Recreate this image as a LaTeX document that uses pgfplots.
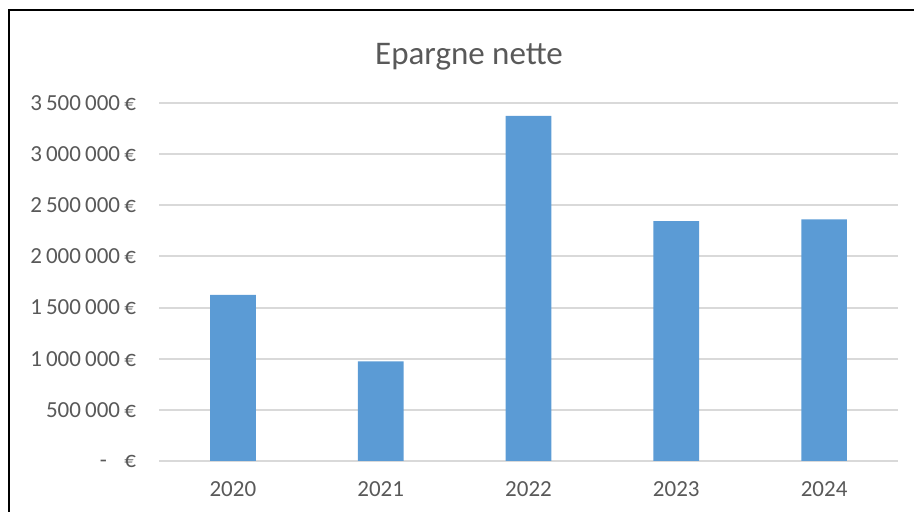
\documentclass[border=0pt]{standalone}
\usepackage{pgfplots}
\pgfplotsset{compat=1.18}
\usepackage{fontspec}
\setmainfont{Carlito}
\definecolor{barblue}{HTML}{5B9BD5}
\definecolor{txtgray}{HTML}{595959}
\definecolor{gridgray}{HTML}{D9D9D9}
\newcommand{\gs}{\hspace{0.18em}}
\begin{document}
\begin{tikzpicture}[x=1pt,y=1pt]
\useasboundingbox (0,0) rectangle (457,256);
\begin{axis}[
  at={(79.5pt,25.5pt)}, anchor=south west,
  scale only axis, width=369.5pt, height=179pt,
  xmin=-0.5, xmax=4.5, ymin=0, ymax=3500000,
  scaled y ticks=false,
  xtick={0,1,2,3,4}, xticklabels={2020,2021,2022,2023,2024},
  ytick={0,500000,1000000,1500000,2000000,2500000,3000000,3500000},
  yticklabels={-\hspace{0.75em}€, 500\gs000\gs€, 1\gs000\gs000\gs€, 1\gs500\gs000\gs€, 2\gs000\gs000\gs€, 2\gs500\gs000\gs€, 3\gs000\gs000\gs€, 3\gs500\gs000\gs€},
  axis line style={draw=none},
  ymajorgrids, major grid style={gridgray, line width=1pt},
  major tick length=0pt,
  tick label style={font=\fontsize{11.5}{13}\selectfont, text=txtgray},
  yticklabel style={xshift=-8pt},
  xticklabel style={yshift=-7pt},
  clip=false,
]
\addplot[ybar, bar width=22.85pt, fill=barblue, draw=none] coordinates {
  (0,1624000) (1,974000) (2,3373000) (3,2346000) (4,2363000)
};
\end{axis}
\draw[line width=1pt] (4.5,-2) -- (4.5,251) -- (460,251);
\node[font=\fontsize{16.5}{20}\selectfont, text=txtgray] at (234.5,227.5) {Epargne nette};
\end{tikzpicture}
\end{document}
